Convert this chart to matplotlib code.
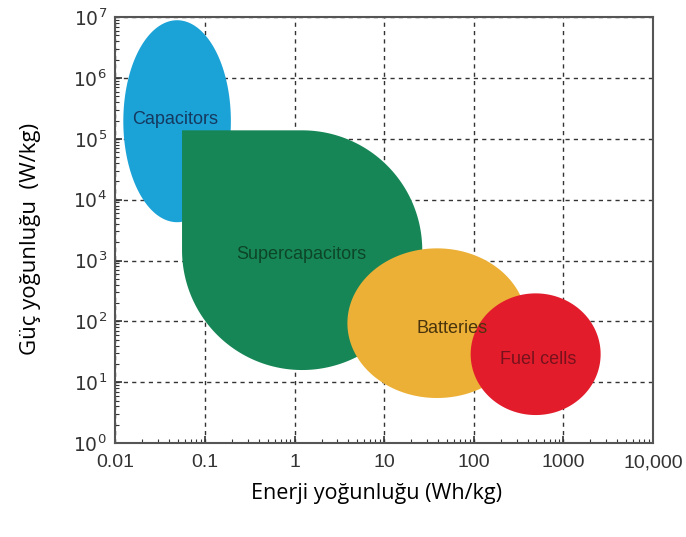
import numpy as np
import matplotlib.pyplot as plt
from matplotlib.ticker import FixedLocator, LogLocator, NullFormatter

plt.rcParams["mathtext.fontset"] = "custom"
plt.rcParams["mathtext.rm"] = "Liberation Sans"

# Regions in log10 space: centre energy, centre power, half-width (decades), half-height (decades)
names = ["Capacitors", "Supercapacitors", "Batteries", "Fuel cells"]
log_energy = [-1.31, 0.085, 1.59, 2.69]
log_power = [5.29, 3.17, 1.97, 1.46]
half_w = [0.60, 1.34, 1.00, 0.725]
half_h = [1.66, 1.97, 1.23, 1.00]
colors = ["#1ba2d7", "#178657", "#ecb036", "#e31c2c"]
text_colors = ["#15395f", "#0d4529", "#4a340d", "#76121c"]
label_pos = [(0.047, 2.1e5), (1.2, 1.25e3), (57, 76), (520, 24)]

x_ticks = [0.01, 0.1, 1, 10, 100, 1000, 10000]
x_labels = ["0.01", "0.1", "1", "10", "100", "1000", "10,000"]
y_ticks = [1e0, 1e1, 1e2, 1e3, 1e4, 1e5, 1e6, 1e7]
y_labels = [r"$\mathregular{10^{%d}}$" % k for k in range(8)]

fig = plt.figure(figsize=(6.86, 5.37), dpi=100)
ax = fig.add_axes([0.168, 0.175, 0.784, 0.793])
ax.set_xscale("log")
ax.set_yscale("log")
ax.set_xlim(0.01, 10000)
ax.set_ylim(1, 1e7)

ax.grid(True, which="major", linestyle=(0, (3, 3)), color="#333333", linewidth=1.0, zorder=0)

t = np.linspace(0, 2 * np.pi, 300)
for i, name in enumerate(names):
    cx, cy, rx, ry = log_energy[i], log_power[i], half_w[i], half_h[i]
    if name == "Supercapacitors":
        # ellipse with the upper-left quarter squared off
        a = np.linspace(np.pi / 2, -np.pi, 300)
        lx = np.concatenate([[cx - rx, cx - rx], cx + rx * np.cos(a), [cx - rx]])
        ly = np.concatenate([[cy, cy + ry], cy + ry * np.sin(a), [cy]])
    else:
        lx = cx + rx * np.cos(t)
        ly = cy + ry * np.sin(t)
    ax.fill(10 ** lx, 10 ** ly, color=colors[i], lw=0, zorder=2 + i)
    ax.text(label_pos[i][0], label_pos[i][1], name, color=text_colors[i],
            fontsize=13, family="Liberation Sans", ha="center", va="center", zorder=10)

ax.xaxis.set_major_locator(FixedLocator(x_ticks))
ax.set_xticklabels(x_labels, fontsize=14)
ax.yaxis.set_major_locator(FixedLocator(y_ticks))
ax.set_yticklabels(y_labels, fontsize=13.5)
ax.xaxis.set_minor_locator(LogLocator(base=10, subs=np.arange(2, 10)))
ax.yaxis.set_minor_locator(LogLocator(base=10, subs=np.arange(2, 10)))
ax.xaxis.set_minor_formatter(NullFormatter())
ax.yaxis.set_minor_formatter(NullFormatter())

ax.tick_params(which="both", direction="in", colors="#333333", labelcolor="#333333")
ax.tick_params(which="major", length=5, width=1.2)
ax.tick_params(which="minor", length=3, width=0.8)
ax.tick_params(axis="x", which="major", pad=8)
ax.tick_params(axis="y", which="major", pad=6)
for lab in ax.get_xticklabels():
    lab.set_family("Liberation Sans")
for s in ax.spines.values():
    s.set_color("#555555")
    s.set_linewidth(1.5)
    s.set_zorder(20)

ax.set_xlabel("Enerji yoğunluğu (Wh/kg)", family="Open Sans", fontsize=15.5)
ax.xaxis.set_label_coords(0.485, -0.095)
ax.set_ylabel("Güç yoğunluğu  (W/kg)", family="Open Sans", fontsize=16)
ax.yaxis.set_label_coords(-0.138, 0.48)

plt.savefig("out.png", dpi=100)
